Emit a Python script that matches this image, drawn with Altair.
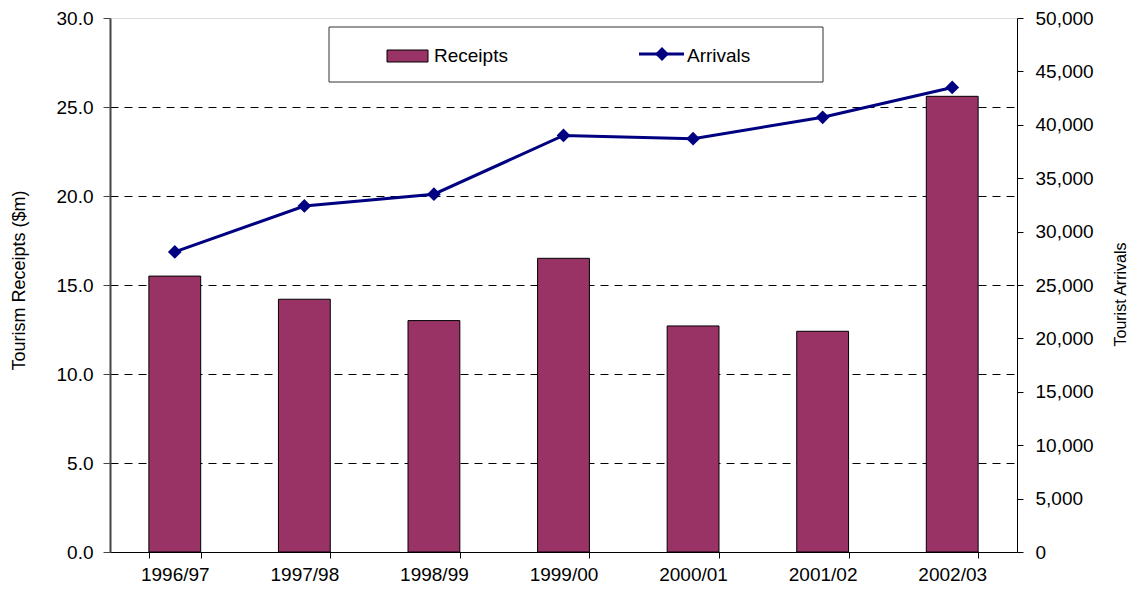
import altair as alt
import pandas as pd

years = ["1996/97", "1997/98", "1998/99", "1999/00", "2000/01", "2001/02", "2002/03"]
receipts = [15.5, 14.2, 13.0, 16.5, 12.7, 12.4, 25.6]
arrivals = [28100, 32400, 33500, 39000, 38700, 40700, 43500]

df = pd.DataFrame({"year": years, "receipts": receipts, "arrivals": arrivals})

FONT = "Liberation Sans"
BAR = "#993366"
LINE = "#000080"

x_enc = alt.X(
    "year:N", sort=years,
    scale=alt.Scale(paddingInner=0.6, paddingOuter=0.3),
    axis=alt.Axis(labelAngle=0, tickBand="extent", title=None, domainColor="black",
                  tickColor="black", tickSize=6, labelFontSize=19, labelPadding=7,
                  labelColor="black", labelFont=FONT),
)

bars = alt.Chart(df).mark_bar(fill=BAR, stroke="black", strokeWidth=1).encode(
    x=x_enc,
    y=alt.Y("receipts:Q", scale=alt.Scale(domain=[0, 30], nice=False),
            axis=alt.Axis(orient="left", values=[0, 5, 10, 15, 20, 25, 30], format=".1f",
                          grid=True, gridDash=[8, 6], gridColor="black", gridWidth=1,
                          gridOpacity={"expr": "datum.value == 30 || datum.value == 0 ? 0 : 1"},
                          domainColor="#444444", domainWidth=2, tickColor="#444444", tickSize=7,
                          labelFontSize=19, labelPadding=10, labelColor="black", labelFont=FONT,
                          title="Tourism Receipts ($m)", titleFontSize=18, titleFontWeight="normal",
                          titleFont=FONT, titleColor="black", titleAngle=270, titleX=-91, titleY=262,
                          titleBaseline="middle", titleAlign="center")),
)

line = alt.Chart(df).mark_line(
    color=LINE, strokeWidth=3,
    point=alt.OverlayMarkDef(shape="diamond", size=190, filled=True, color=LINE, opacity=1),
).encode(
    x=x_enc,
    y=alt.Y("arrivals:Q", scale=alt.Scale(domain=[0, 50000], nice=False),
            axis=alt.Axis(orient="right", values=list(range(0, 50001, 5000)), format=",d",
                          grid=False, domainColor="black", tickColor="black", tickSize=6,
                          labelFontSize=19, labelPadding=12, labelColor="black", labelFont=FONT,
                          title="Tourist Arrivals", titleFontSize=16, titleFontWeight="normal",
                          titleFont=FONT, titleColor="black", titleAngle=270, titleX=103, titleY=276,
                          titleBaseline="middle", titleAlign="center")),
)

one = alt.Data(values=[{"k": 1}])
leg_box = alt.Chart(one).mark_rect(fill="white", stroke="#333333", strokeWidth=1).encode(
    x=alt.value(219), x2=alt.value(713), y=alt.value(9), y2=alt.value(64))
leg_sw = alt.Chart(one).mark_rect(fill=BAR, stroke="black", strokeWidth=1).encode(
    x=alt.value(277), x2=alt.value(318), y=alt.value(32), y2=alt.value(44))
leg_t1 = alt.Chart(one).mark_text(text="Receipts", align="left", baseline="middle",
                                  fontSize=19, font=FONT, color="black").encode(
    x=alt.value(324), y=alt.value(38))
leg_ln = alt.Chart(one).mark_rule(color=LINE, strokeWidth=3).encode(
    x=alt.value(529), x2=alt.value(574), y=alt.value(36))
leg_pt = alt.Chart(one).mark_point(shape="diamond", size=190, filled=True, color=LINE, opacity=1).encode(
    x=alt.value(552), y=alt.value(36))
leg_t2 = alt.Chart(one).mark_text(text="Arrivals", align="left", baseline="middle",
                                  fontSize=19, font=FONT, color="black").encode(
    x=alt.value(577), y=alt.value(38))

chart = alt.layer(bars, line, leg_box, leg_sw, leg_t1, leg_ln, leg_pt, leg_t2).resolve_scale(
    y="independent"
).properties(
    width=907, height=534,
    padding={"left": 102, "top": 10, "right": 112, "bottom": 33},
    autosize=alt.AutoSizeParams(type="none"),
).configure_view(stroke="#999999", strokeWidth=1).configure(font=FONT, background="white")

chart.save("out.html", embed_options={"renderer": "svg", "actions": False})
